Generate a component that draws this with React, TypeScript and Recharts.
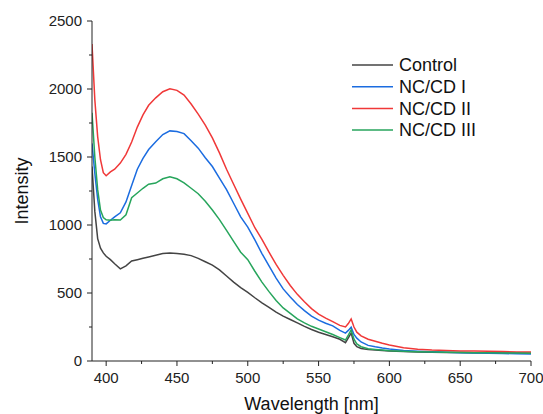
import { LineChart, Line, XAxis, YAxis, Legend } from "recharts";

const wavelength = [
  390, 392, 394, 396, 398, 400, 403, 406, 410, 414, 418, 422, 426, 430, 435,
  440, 445, 450, 455, 460, 465, 470, 475, 480, 485, 490, 495, 500, 505, 510,
  515, 520, 525, 530, 535, 540, 545, 550, 555, 560, 565, 569, 571, 573, 575,
  577, 580, 585, 590, 595, 600, 610, 620, 630, 640, 650, 660, 670, 680, 690,
  700,
];

const control = [
  1430, 1100, 900, 830, 795, 770, 745, 715, 678, 700, 735, 745, 755, 765, 778,
  790, 795, 790, 785, 775, 755, 730, 705, 670, 625, 580, 540, 505, 465, 428,
  395, 360, 330, 305, 280, 255, 232, 212, 195, 178, 160, 135, 170, 205, 130,
  105, 92, 85, 80, 77, 74, 70, 67, 65, 63, 62, 61, 60, 59, 58, 57,
];

const ncI = [
  1600, 1380, 1190, 1060, 1012, 1008, 1035, 1060, 1090, 1170, 1290, 1410, 1490,
  1555, 1612, 1665, 1692, 1688, 1672, 1620, 1565, 1495, 1430, 1345, 1260, 1160,
  1060, 985, 890, 790, 700, 610, 530, 470, 415, 370, 330, 300, 278, 258, 225,
  205, 225, 248, 195, 168, 140, 115, 104, 95, 88, 78, 72, 68, 64, 61, 59, 57,
  55, 53, 52,
];

const ncII = [
  2330, 1920, 1650, 1480, 1385, 1362, 1390, 1410, 1455, 1520, 1610, 1720, 1810,
  1880, 1935, 1980, 2002, 1990, 1955, 1890, 1815, 1735, 1640, 1530, 1410, 1300,
  1190, 1085, 980, 895, 800, 710, 630, 555, 490, 435, 385, 345, 315, 290, 262,
  250, 275, 309, 250, 212, 185, 160, 145, 130, 118, 98, 86, 80, 77, 74, 73, 71,
  69, 67, 66,
];

const ncIII = [
  1825, 1500, 1260, 1110, 1055, 1038, 1035, 1038, 1037, 1075, 1200, 1235, 1270,
  1300, 1308, 1340, 1355, 1340, 1310, 1270, 1230, 1175, 1110, 1040, 960, 880,
  800, 745, 660, 580, 510, 445, 390, 350, 310, 280, 255, 235, 215, 195, 172,
  154, 190, 228, 160, 125, 105, 90, 85, 80, 76, 72, 68, 66, 64, 62, 61, 60, 59,
  58, 57,
];

const xTicks = [400, 425, 450, 475, 500, 525, 550, 575, 600, 625, 650, 675, 700];
const yTicks = [0, 250, 500, 750, 1000, 1250, 1500, 1750, 2000, 2250, 2500];

const series = [
  { key: "control", name: "Control", color: "#444444" },
  { key: "ncI", name: "NC/CD I", color: "#1b6ce0" },
  { key: "ncII", name: "NC/CD II", color: "#f03838" },
  { key: "ncIII", name: "NC/CD III", color: "#27a55c" },
];

const data = wavelength.map((wl, i) => ({
  wl,
  control: control[i],
  ncI: ncI[i],
  ncII: ncII[i],
  ncIII: ncIII[i],
}));

const FONT = "'Liberation Sans', Arial, sans-serif";
const AXIS = "#222";

const XTick = (props: any) => {
  const { x, y, payload } = props;
  const major = payload.value % 50 === 0;
  const axisY = y - 11;
  return (
    <g>
      <line x1={x} x2={x} y1={axisY} y2={axisY + (major ? 5 : 3)} stroke={AXIS} />
      {major && (
        <text x={x} y={y} dy="0.71em" textAnchor="middle" fontSize={15} fill={AXIS} fontFamily={FONT}>
          {payload.value}
        </text>
      )}
    </g>
  );
};

const YTick = (props: any) => {
  const { x, y, payload } = props;
  const major = payload.value % 500 === 0;
  const axisX = x + 10;
  return (
    <g>
      <line x1={axisX} x2={axisX - (major ? 5 : 3)} y1={y} y2={y} stroke={AXIS} />
      {major && (
        <text x={x} y={y} dy="0.35em" textAnchor="end" fontSize={15} fill={AXIS} fontFamily={FONT}>
          {payload.value}
        </text>
      )}
    </g>
  );
};

// legend drawn as svg so the swatch lines keep their colours
const LegendBox = () => (
  <svg width={160} height={88} style={{ display: "block" }}>
    {series.map((s, i) => {
      const cy = 11 + i * 21.7;
      return (
        <g key={s.key}>
          <line x1={0} x2={41} y1={cy} y2={cy} stroke={s.color} strokeWidth={1.5} />
          <text x={47} y={cy} dy="0.35em" fontSize={18} fill="#111" fontFamily={FONT}>
            {s.name}
          </text>
        </g>
      );
    })}
  </svg>
);

const YLabel = (props: any) => {
  const vb = props.viewBox || {};
  const cx = (vb.x || 0) + 22;
  const cy = (vb.y || 0) + (vb.height || 0) / 2;
  return (
    <text
      x={cx}
      y={cy}
      transform={`rotate(-90, ${cx}, ${cy})`}
      textAnchor="middle"
      dominantBaseline="central"
      fontSize={18}
      fill="#111"
      fontFamily={FONT}
    >
      Intensity
    </text>
  );
};

export default function App() {
  return (
    <div style={{ position: "absolute", left: 0, top: 0, background: "#fff" }}>
      <LineChart width={543} height={414} data={data} margin={{ top: 21, right: 12, bottom: 0, left: 0 }}>
        <XAxis
          dataKey="wl"
          type="number"
          domain={[390, 700]}
          ticks={xTicks}
          allowDataOverflow
          height={53}
          stroke={AXIS}
          tickSize={5}
          tickMargin={6}
          tickLine={false}
          tick={<XTick />}
          label={{
            value: "Wavelength [nm]",
            position: "insideBottom",
            offset: 4,
            fontSize: 18,
            fill: "#111",
            fontFamily: FONT,
          }}
        />
        <YAxis
          type="number"
          domain={[0, 2500]}
          ticks={yTicks}
          width={92}
          stroke={AXIS}
          tickSize={5}
          tickMargin={5}
          tickLine={false}
          tick={<YTick />}
          label={{ content: <YLabel /> }}
        />
        <Legend
          layout="horizontal"
          verticalAlign="middle"
          align="center"
          content={<LegendBox />}
          wrapperStyle={{ position: "absolute", left: 352, top: 54, width: 160 }}
        />
        {series.map((s) => (
          <Line
            key={s.key}
            type="linear"
            dataKey={s.key}
            name={s.name}
            stroke={s.color}
            strokeWidth={1.5}
            dot={false}
            isAnimationActive={false}
          />
        ))}
      </LineChart>
    </div>
  );
}
